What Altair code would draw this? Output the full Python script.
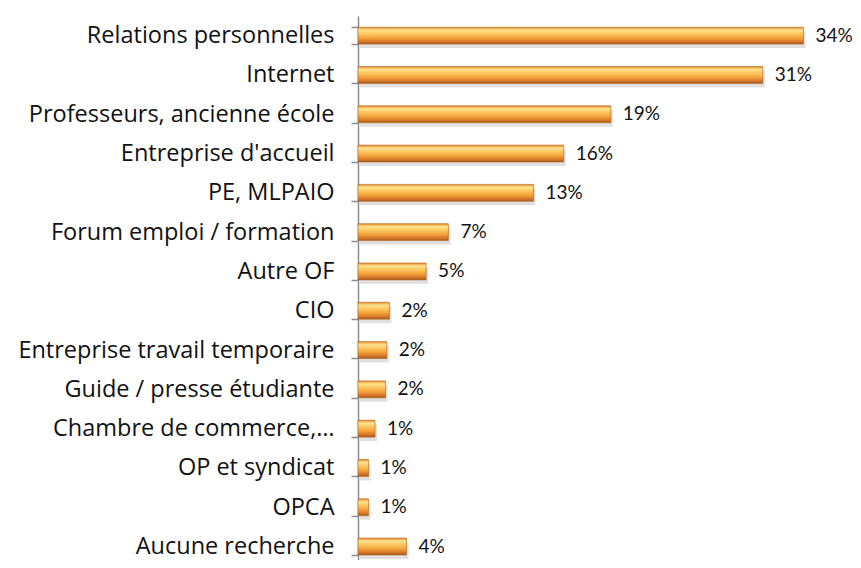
import altair as alt
import pandas as pd

categories = [
    "Relations personnelles",
    "Internet",
    "Professeurs, ancienne école",
    "Entreprise d'accueil",
    "PE, MLPAIO",
    "Forum emploi / formation",
    "Autre OF",
    "CIO",
    "Entreprise travail temporaire",
    "Guide / presse étudiante",
    "Chambre de commerce,…",
    "OP et syndicat",
    "OPCA",
    "Aucune recherche",
]
values = [34.0, 30.9, 19.3, 15.7, 13.4, 6.9, 5.2, 2.4, 2.2, 2.1, 1.3, 0.8, 0.8, 3.7]
pct_labels = ["34%", "31%", "19%", "16%", "13%", "7%", "5%", "2%", "2%", "2%", "1%", "1%", "1%", "4%"]

df = pd.DataFrame({"cat": categories, "val": values, "lab": pct_labels})

W = 495
H = 544
STEP = 39.3
RANGE_H = STEP * len(categories)
PX_PER_PCT = 13.1

y_enc = alt.Y(
    "cat:N",
    sort=categories,
    title=None,
    scale=alt.Scale(range=[0, RANGE_H], paddingInner=0.57, paddingOuter=0.285),
    axis=alt.Axis(
        domainColor="#8c8c8c",
        domainWidth=1.5,
        tickColor="#8c8c8c",
        tickSize=7,
        tickWidth=1.5,
        tickBand="extent",
        labelFont="Open Sans",
        labelFontSize=23.5,
        labelColor="#111111",
        labelPadding=17,
        labelLimit=400,
        grid=False,
    ),
)
x_enc = alt.X("val:Q", scale=alt.Scale(domain=[0, W / PX_PER_PCT]), axis=None)

base = alt.Chart(df).encode(y=y_enc, x=x_enc)

shadow = base.mark_bar(color="#000000", opacity=0.12, yOffset=4, xOffset=2)

grad = alt.Gradient(
    gradient="linear",
    x1=0, y1=0, x2=0, y2=1,
    stops=[
        alt.GradientStop(color="#E98B2E", offset=0.0),
        alt.GradientStop(color="#FFE38F", offset=0.18),
        alt.GradientStop(color="#FCC55C", offset=0.4),
        alt.GradientStop(color="#F3A039", offset=0.65),
        alt.GradientStop(color="#D5782A", offset=0.85),
        alt.GradientStop(color="#A65A1C", offset=1.0),
    ],
)
bars = base.mark_bar(color=grad, stroke="#B0611F", strokeWidth=0.6)

text = base.mark_text(align="left", baseline="middle", dx=12, font="Lato", fontSize=19, color="#111111").encode(
    text="lab:N"
)

chart = (
    alt.layer(shadow, bars, text)
    .properties(
        width=W,
        height=H,
        autosize=alt.AutoSizeParams(type="none"),
        padding={"left": 350, "top": 8, "right": 0, "bottom": 0},
        background="white",
    )
    .configure_view(strokeWidth=0)
)

chart.save("out.html", embed_options={"renderer": "svg", "actions": False})
